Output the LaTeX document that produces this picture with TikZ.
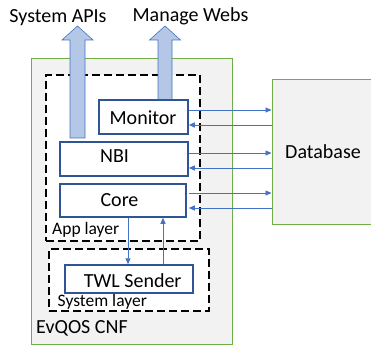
\documentclass[tikz,border=0pt]{standalone}
\usepackage{fontspec}
\setmainfont{Carlito}
\usetikzlibrary{arrows.meta}
\definecolor{cnfgray}{HTML}{F2F2F2}
\definecolor{cnfgreen}{HTML}{70AD47}
\definecolor{boxblue}{HTML}{2F5597}
\definecolor{arrblue}{HTML}{4472C4}
\definecolor{bigfill}{HTML}{B4C7E7}
\tikzset{
  container/.style={draw=cnfgreen, fill=cnfgray, line width=1pt, inner sep=0pt},
  layerbox/.style={draw=black, fill=white, line width=1.6pt, dash pattern=on 8pt off 4pt, inner sep=0pt},
  modbox/.style={draw=boxblue, fill=white, line width=1.5pt, inner sep=0pt},
  txt/.style={font=\fontsize{20}{24}\selectfont, inner sep=0pt, anchor=base},
  smalltxt/.style={font=\fontsize{17.5}{21}\selectfont, inner sep=0pt, anchor=base west},
  sarr/.style={draw=arrblue, line width=0.9pt, -{Triangle[length=6pt,width=5pt]}},
  bigarr/.style={draw=arrblue, fill=bigfill, line width=0.6pt, line join=miter},
}
\begin{document}
\begin{tikzpicture}[x=1pt, y=-1pt]
\useasboundingbox (0,0) rectangle (371,347);
% containers
\node[container, minimum width=201pt, minimum height=285pt] (cnf) at (131.5,201.5) {};
\node[container, minimum width=110pt, minimum height=144pt] (db) at (327,152) {};
% layers
\node[layerbox, minimum width=154pt, minimum height=166pt] (app) at (123,158) {};
\node[layerbox, minimum width=160pt, minimum height=62pt] (sys) at (129,280) {};
% big arrows
\draw[bigarr] (70,138) -- (70,40) -- (62,40) -- (77.5,26) -- (93,40) -- (85,40) -- (85,138) -- cycle;
\draw[bigarr] (158,100) -- (158,40) -- (149.5,40) -- (165,26) -- (180.5,40) -- (172,40) -- (172,100) -- cycle;
% modules
\node[modbox, minimum width=89pt, minimum height=34pt] (mon) at (143.5,117) {};
\node[modbox, minimum width=128pt, minimum height=34pt] (nbi) at (124,159) {};
\node[modbox, minimum width=126pt, minimum height=33pt] (core) at (123,200.5) {};
\node[modbox, minimum width=128pt, minimum height=28pt] (twl) at (129,279) {};
% texts
\node[txt] (tapi) at (58,23) {System APIs};
\node[txt] (tweb) at (190.5,22) {Manage Webs};
\node[txt] (tmon) at (143,125) {Monitor};
\node[txt] (tnbi) at (114.5,163) {NBI};
\node[txt] (tcore) at (119.5,206) {Core};
\node[txt] (ttwl) at (132.7,287) {TWL Sender};
\node[txt] (tdb) at (323,159) {Database};
\node[smalltxt] (tapp) at (52,234) {App layer};
\node[smalltxt] (tsys) at (57.5,306.5) {System layer};
\node[txt, anchor=base west] (tcnf) at (36,333) {EvQOS CNF};
% small arrows module <-> database
\draw[sarr] ([yshift=7pt]mon.east) -- ([yshift=7pt]mon.east -| db.west);
\draw[sarr] ([yshift=-8pt]mon.east -| db.west) -- ([yshift=-8pt]mon.east);
\draw[sarr] ([yshift=6pt]nbi.east) -- ([yshift=6pt]nbi.east -| db.west);
\draw[sarr] ([yshift=-9pt]nbi.east -| db.west) -- ([yshift=-9pt]nbi.east);
\draw[sarr] ([yshift=7.5pt,xshift=2pt]core.east) -- ([yshift=7.5pt]core.east -| db.west);
\draw[sarr] ([yshift=-7.5pt]core.east -| db.west) -- ([yshift=-7.5pt,xshift=2pt]core.east);
% core <-> twl
\draw[sarr] (core.south -| 128,0) -- (twl.north -| 128,0);
\draw[sarr] (twl.north -| 163,0) -- (core.south -| 163,0);
\end{tikzpicture}
\end{document}
